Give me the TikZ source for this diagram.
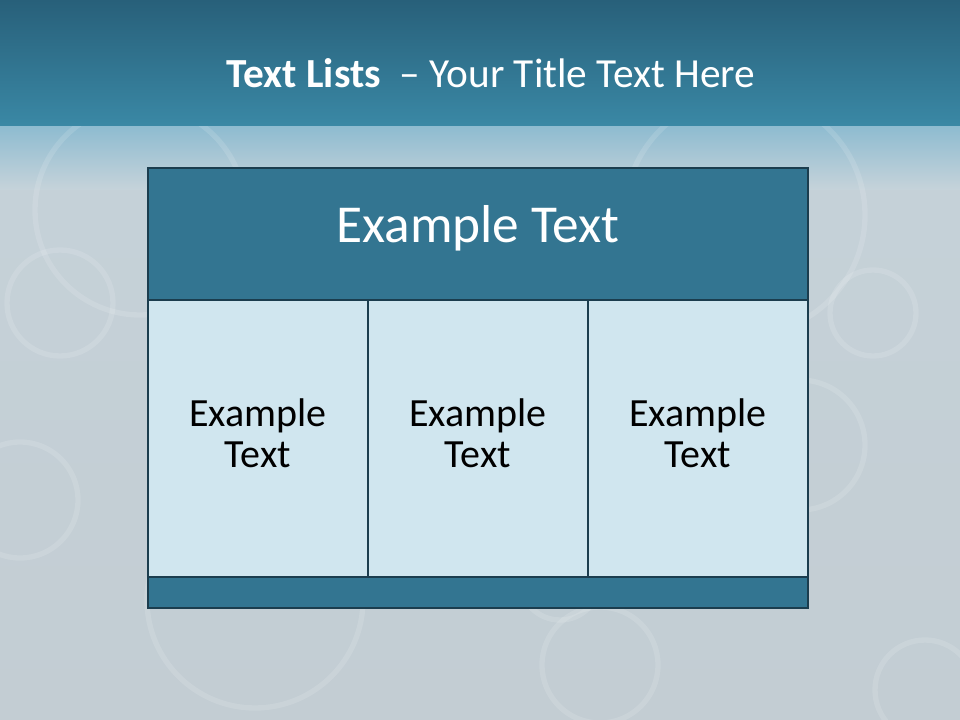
\documentclass[tikz,border=0pt]{standalone}
\usepackage{fontspec}
\setmainfont{Carlito}
\usepackage{xcolor}
\usetikzlibrary{positioning}
\definecolor{banddark}{HTML}{28607A}
\definecolor{bandmid}{HTML}{3A88A5}
\definecolor{bandfade}{HTML}{8DBBD0}
\definecolor{slidegrey}{HTML}{C6D3DA}
\definecolor{slidelow}{HTML}{C3CDD3}
\definecolor{tablehead}{HTML}{337591}
\definecolor{tableline}{HTML}{1B3D4E}
\definecolor{tablecell}{HTML}{D0E6EF}

\tikzset{
  bubble/.style={draw=white, line width=4pt, opacity=0.13},
  headbox/.style={draw=tableline, line width=2.2pt, fill=tablehead, outer sep=0pt,
      minimum width=495pt, minimum height=99pt, inner sep=0pt},
  headtext/.style={text=white, inner sep=0pt, font=\fontsize{40}{44}\selectfont},
  cellbox/.style={draw=tableline, line width=2.2pt, fill=tablecell, outer sep=0pt,
      minimum width=165pt, minimum height=207.75pt, inner sep=0pt},
  celltext/.style={text=black, align=center, inner sep=0pt,
      font=\fontsize{30}{30.5}\selectfont},
  footbox/.style={draw=tableline, line width=2.2pt, fill=tablehead, outer sep=0pt,
      minimum width=495pt, minimum height=23.25pt, inner sep=0pt},
}

\begin{document}
\begin{tikzpicture}[x=0.75pt, y=-0.75pt]
  \useasboundingbox (0,0) rectangle (960,720);
  % slide background
  \shade[top color=slidegrey, bottom color=slidelow] (0,0) rectangle (960,720);
  \shade[top color=bandfade, bottom color=slidegrey] (0,125) rectangle (960,190);
  % faint bubbles
  \draw[bubble] (140,210) circle (105);
  \draw[bubble] (60,303) circle (53);
  \draw[bubble] (20,500) circle (58);
  \draw[bubble] (255,600) circle (108);
  \draw[bubble] (745,215) circle (120);
  \draw[bubble] (873,313) circle (43);
  \draw[bubble] (800,445) circle (65);
  \draw[bubble] (560,580) circle (40);
  \draw[bubble] (600,665) circle (58);
  \draw[bubble] (925,690) circle (50);
  % title band
  \shade[top color=banddark, bottom color=bandmid] (0,0) rectangle (960,126);
  \node[text=white, anchor=base, font=\fontsize{31}{36}\selectfont] (title) at (491,88)
      {\textbf{Text Lists}\ \ – Your Title Text Here};
  % table
  \node[headbox] (head) at (478,234) {};
  \node[headtext, anchor=base] (headlabel) at (478,243) {Example Text};
  \node[cellbox] (cellA) at (258,438.5) {};
  \node[cellbox, right=0pt of cellA] (cellB) {};
  \node[cellbox, right=0pt of cellB] (cellC) {};
  \node[footbox] (foot) at (478,592.5) {};
  \foreach \c in {cellA,cellB,cellC}
    \node[celltext, yshift=4pt] (\c label) at (\c) {Example\\Text};
\end{tikzpicture}
\end{document}
